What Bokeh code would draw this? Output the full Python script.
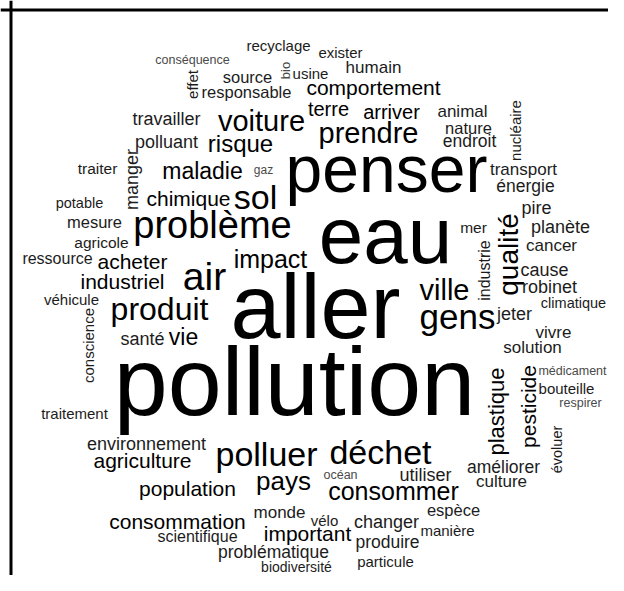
import math
from bokeh.plotting import figure
from bokeh.models import ColumnDataSource, Range1d, Span
from bokeh.core.properties import value
from bokeh.embed import file_html
from bokeh.resources import INLINE

# ---- word cloud data: word, relative weight (frequency score) ----
words = ["pollution", "aller", "penser", "eau", "problème", "air", "gens", "sol", "déchet",
         "polluer", "produit", "qualité", "voiture", "prendre", "ville", "pays", "consommer",
         "impact", "risque", "maladie", "vie", "plastique", "pesticide", "agriculture",
         "industriel", "acheter", "chimique", "consommation", "important", "population",
         "comportement", "terre", "arriver", "santé", "polluant", "travailler", "manger",
         "environnement", "changer", "utiliser", "améliorer", "problématique", "culture",
         "produire", "responsable", "pire", "planète", "cause", "robinet", "jeter", "énergie",
         "transport", "cancer", "animal", "endroit", "humain", "monde", "nature", "solution",
         "vivre", "mesure", "espèce", "source", "industrie", "agricole", "ressource", "mer",
         "scientifique", "recyclage", "traiter", "exister", "usine", "effet", "potable",
         "véhicule", "conscience", "traitement", "climatique", "particule", "manière",
         "nucléaire", "vélo", "biodiversité", "bouteille", "évoluer", "bio", "conséquence",
         "gaz", "océan", "respirer", "médicament"]
weight = [97, 90, 66, 80, 38, 39, 35, 34, 34,
          34, 32, 28, 29, 29, 29, 26, 25,
          25, 24, 23, 23, 22, 21, 21,
          21, 21, 21, 21, 21, 21,
          21, 20, 20, 18, 18, 18, 18,
          18, 18, 18, 17.5, 17.5, 17,
          17.5, 16.5, 18, 18, 18, 18, 18, 17.5,
          17, 17, 17, 17.5, 17, 17, 16.5, 17,
          17, 16.5, 16.5, 16.5, 16, 15.5, 16, 15.5,
          16, 15, 15.5, 15, 15, 15, 14.5,
          15, 15, 15, 14.5, 15, 15,
          15, 15, 14, 15, 14.5, 13, 12.5,
          12, 12.5, 12.5, 12.5]
# layout produced by the word cloud (pixel position of each word's baseline centre)
layout_x = [294, 315, 386, 385, 212, 204, 457, 255, 380,
            266, 159, 518, 261, 368, 444, 283, 393,
            270, 240, 202, 183, 504, 535, 142,
            122, 132, 188, 177, 307, 187,
            373, 328, 391, 142, 166, 166, 138,
            146, 386, 425, 503, 273, 501,
            387, 246, 536, 560, 544, 549, 514, 525,
            523, 551, 462, 469, 373, 279, 468, 532,
            553, 94, 453, 247, 490, 101, 57, 473,
            197, 278, 97, 340, 310, 197, 79,
            71, 93, 74, 573, 385, 447,
            520, 324, 296, 566, 562, 290, 192,
            263, 340, 580, 572]
layout_y = [415, 338, 192, 263, 238, 290, 328, 208, 463,
            465, 320, 254, 131, 143, 300, 490, 499,
            267, 151, 179, 345, 411, 406, 467,
            288, 268, 205, 528, 540, 495,
            94, 115, 118, 345, 148, 125, 179,
            450, 528, 481, 473, 558, 487,
            548, 97, 214, 233, 276, 293, 320, 192,
            175, 251, 117, 147, 73, 518, 133, 353,
            338, 227, 515, 82, 270, 247, 264, 232,
            542, 50, 173, 57, 78, 84, 208,
            304, 345, 418, 308, 566, 535,
            130, 525, 571, 393, 449, 70, 64,
            174, 479, 407, 375]
vertical = {"qualité", "plastique", "pesticide", "manger", "industrie", "effet",
            "conscience", "nucléaire", "évoluer", "bio"}

SIZE_SCALE = 1.0
# the svg text renderer places the glyph run ~0.35 em below the anchor;
# shift the anchor (in the text's own "up" direction) so the baseline lands on the layout point
BASELINE_SHIFT = 0.35

xs, ys, font_sizes, angles = [], [], [], []
for w, wt, x, y in zip(words, weight, layout_x, layout_y):
    em = wt * SIZE_SCALE
    font_sizes.append(f"{em:.1f}px")
    if w in vertical:
        angles.append(math.pi / 2)
        xs.append(x - BASELINE_SHIFT * em)
        ys.append(y)
    else:
        angles.append(0.0)
        xs.append(x)
        ys.append(y - BASELINE_SHIFT * em)
colors = ["#000000" if w >= 20 else ("#1c1c1c" if w >= 14 else "#4a4a4a") for w in weight]

src = ColumnDataSource(dict(x=xs, y=ys, text=words, size=font_sizes,
                            angle=angles, color=colors))

W, H = 608, 575
p = figure(width=W, height=H, output_backend="svg", toolbar_location=None,
           x_range=Range1d(0, W), y_range=Range1d(H, 0),
           min_border=0, outline_line_color=None, background_fill_color="white",
           border_fill_color="white")
p.axis.visible = False
p.grid.visible = False

p.text(x="x", y="y", text="text", source=src, text_font=value("Liberation Sans"),
       text_font_size="size", angle="angle", text_color="color",
       text_align="center", text_baseline="alphabetic")

# partial frame (left and top edges, as in the cropped original)
p.add_layout(Span(location=10.5, dimension="height", line_color="black", line_width=3))
p.add_layout(Span(location=9.5, dimension="width", line_color="black", line_width=3))

open("out.html", "w").write(file_html(p, INLINE))
